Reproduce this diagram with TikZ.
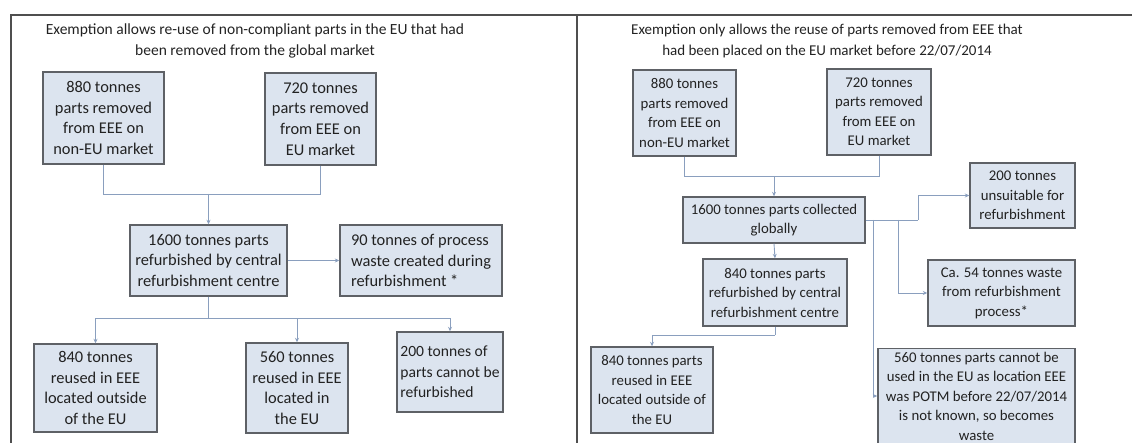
\documentclass[tikz,border=0pt]{standalone}
\usepackage{fontspec}
\setmainfont{Carlito}
\usetikzlibrary{arrows.meta}
\definecolor{boxfill}{HTML}{DCE4EF}
\definecolor{boxborder}{HTML}{5E6166}
\definecolor{conn}{HTML}{8A9FBE}
\definecolor{frame}{HTML}{4F4F4F}
\definecolor{txt}{HTML}{222222}
\tikzset{
  box/.style={draw=boxborder, fill=boxfill, line width=1.4pt, align=center, inner sep=1pt, text=txt},
  lbox/.style={box, font=\fontsize{16.4}{20.7}\selectfont},
  rbox/.style={box, font=\fontsize{14.8}{19.5}\selectfont},
  lttl/.style={align=center, text=txt, font=\fontsize{15.5}{21}\selectfont},
  rttl/.style={align=center, text=txt, font=\fontsize{15}{21}\selectfont},
  conline/.style={draw=conn, line width=0.9pt},
  arr/.style={conline, -{Stealth[length=4.5pt,width=4pt]}},
  panel/.style={draw=frame, line width=2pt}
}
\begin{document}
\begin{tikzpicture}[x=1pt,y=-1pt]
\useasboundingbox (0,0) rectangle (1132,443);
% frame
\draw[panel] (11,443) -- (11,15) -- (1132,15);
\draw[panel] (577,15) -- (577,443);

% ---------- left panel ----------
\node[lttl] (Lt) at (255,41) {Exemption allows re-use of non-compliant parts in the EU that had\\been removed from the global market};
\node[lbox, minimum width=121pt, minimum height=92pt] (L880) at (103.5,118) {880 tonnes\\parts removed\\from EEE on\\non-EU market};
\node[lbox, minimum width=111pt, minimum height=92pt] (L720) at (320.5,119) {720 tonnes\\parts removed\\from EEE on\\EU market};
\node[lbox, minimum width=157pt, minimum height=71pt] (L1600) at (208.5,260.5) {1600 tonnes parts\\refurbished by central\\refurbishment centre};
\node[lbox, align=left, minimum width=162pt, minimum height=71pt] (L90) at (421,260.5) {90 tonnes of process\\waste created during\\refurbishment *};
\node[lbox, minimum width=123pt, minimum height=88pt] (L840) at (95.5,388) {840 tonnes\\reused in EEE\\located outside\\of the EU};
\node[lbox, minimum width=102pt, minimum height=90pt] (L560) at (297,388) {560 tonnes\\reused in EEE\\located in\\the EU};
\node[lbox, align=left, font=\fontsize{15.6}{20.5}\selectfont, minimum width=106pt, minimum height=80pt] (L200) at (450,372) {200 tonnes of\\parts cannot be\\refurbished};

\coordinate (Lj1) at (208.5,194);
\coordinate (Lj2) at (208.5,318);
\draw[conline] (L880.south) |- (Lj1);
\draw[conline] (L720.south) |- (Lj1);
\draw[arr] (Lj1) -- (L1600.north);
\draw[arr] (L1600.east) -- (L90.west);
\draw[conline] (L1600.south) -- (Lj2);
\draw[arr] (Lj2) -| (L840.north);
\draw[arr] (Lj2) -| (L560.north);
\draw[arr] (Lj2) -| (L200.north);

% ---------- right panel ----------
\node[rttl] (Rt) at (827,41) {Exemption only allows the reuse of parts removed from EEE that\\had been placed on the EU market before 22/07/2014};
\node[rbox, minimum width=103pt, minimum height=86pt] (R880) at (684.5,113) {880 tonnes\\parts removed\\from EEE on\\non-EU market};
\node[rbox, minimum width=104pt, minimum height=86pt] (R720) at (879,112) {720 tonnes\\parts removed\\from EEE on\\EU market};
\node[rbox, minimum width=182pt, minimum height=46pt] (R1600) at (774,220) {1600 tonnes parts collected\\globally};
\node[rbox, minimum width=105pt, minimum height=65pt] (R200) at (1022.5,195.5) {200 tonnes\\unsuitable for\\refurbishment};
\node[rbox, minimum width=147pt, minimum height=66pt] (R54) at (1001.5,293) {Ca. 54 tonnes waste\\from refurbishment\\process*};
\node[rbox, minimum width=144pt, minimum height=67pt] (R840r) at (775,292.5) {840 tonnes parts\\refurbished by central\\refurbishment centre};
\node[rbox, minimum width=122pt, minimum height=86pt] (R840u) at (652,390) {840 tonnes parts\\reused in EEE\\located outside of\\the EU};
\node[rbox, minimum width=197pt, minimum height=95pt] (R560) at (976.5,396) {560 tonnes parts cannot be\\used in the EU as location EEE\\was POTM before 22/07/2014\\is not known, so becomes\\waste};

\coordinate (Rj1) at (774,176);
\coordinate (Rj2) at (775,335);
\coordinate (Rj3) at (918,220);
\coordinate (Rb1) at (898,220);
\coordinate (Rb2) at (873,220);
\draw[conline] (R880.south) |- (Rj1);
\draw[conline] (R720.south) |- (Rj1);
\draw[arr] (Rj1) -- (R1600.north);
\draw[arr] (R1600.south) -- (R840r.north);
\draw[conline] (R840r.south) -- (Rj2);
\draw[arr] (Rj2) -| (R840u.north);
\draw[conline] (R1600.east) -- (Rj3);
\draw[arr] (Rj3) |- (R200.west);
\draw[arr] (Rb1) |- (R54.west);
\draw[arr] (Rb2) |- (R560.west);
\end{tikzpicture}
\end{document}
